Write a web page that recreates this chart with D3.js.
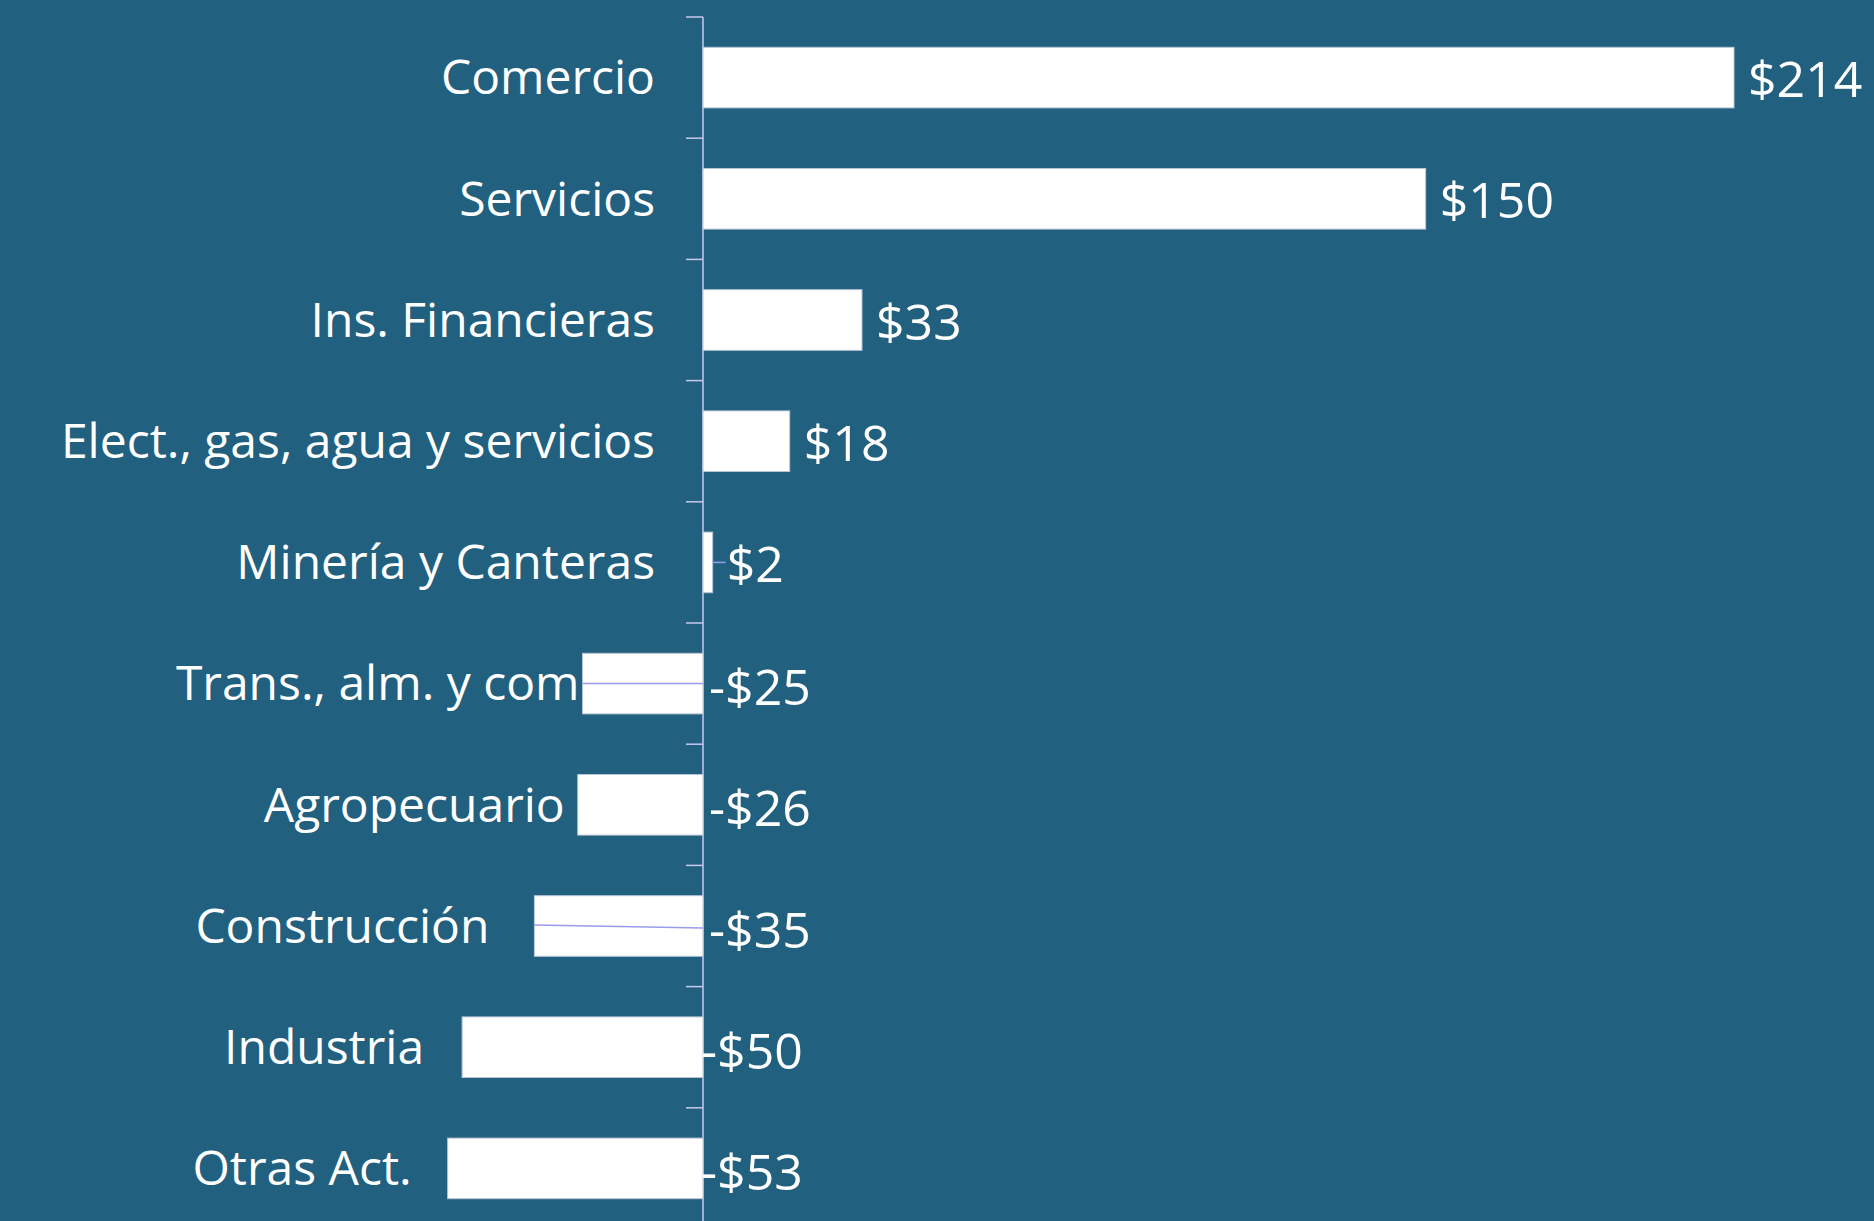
<!DOCTYPE html>
<html><head><meta charset="utf-8">
<script src="https://cdn.jsdelivr.net/npm/d3@7"></script>
<style>
html,body{margin:0;padding:0;background:#22607F;overflow:hidden}
svg{display:block}
text{font-family:"Open Sans",Lato,sans-serif;fill:#ffffff}
</style></head><body>
<svg id="c" width="1874" height="1221"></svg>
<script>
const categories = ["Comercio","Servicios","Ins. Financieras","Elect., gas, agua y servicios","Minería y Canteras","Trans., alm. y com","Agropecuario","Construcción","Industria","Otras Act."];
const values = [214,150,33,18,2,-25,-26,-35,-50,-53];
const valueLabels = ["$214","$150","$33","$18","$2","-$25","-$26","-$35","-$50","-$53"];

// layout constants (not data)
const labelGap = [48,48,48,48,48,3,13,45,38,36];

const svg = d3.select("#c");
const x = d3.scaleLinear().domain([0,214]).range([703,1734]);
const y = d3.scaleBand().domain(categories).range([17,17+121.2*10]).paddingInner(0.5).paddingOuter(0.25);

const axisColor = "#c9c9f2";

svg.append("line").attr("x1",703).attr("x2",703).attr("y1",17).attr("y2",1221)
  .attr("stroke",axisColor).attr("stroke-width",1.5);
const step = y.step();
categories.forEach((c,i)=>{
  const ty = y.range()[0] + i*step;
  svg.append("line").attr("x1",686).attr("x2",703).attr("y1",ty).attr("y2",ty)
    .attr("stroke",axisColor).attr("stroke-width",1.5);
});

svg.selectAll("rect.bar").data(values).join("rect").attr("class","bar")
  .attr("x",d=>Math.min(x(0),x(d)))
  .attr("width",d=>Math.abs(x(d)-x(0)))
  .attr("y",(d,i)=>y(categories[i]))
  .attr("height",y.bandwidth())
  .attr("fill","#ffffff").attr("stroke","#b8c6d6").attr("stroke-width",1);

const leader = "#9b9bec";
{
  const i = 5, cy = y(categories[i])+y.bandwidth()/2;
  svg.append("line").attr("x1",x(values[i])).attr("x2",x(0)).attr("y1",cy).attr("y2",cy)
    .attr("stroke",leader).attr("stroke-width",1.5);
}
{
  const i = 7, cy = y(categories[i])+y.bandwidth()/2;
  svg.append("line").attr("x1",x(values[i])).attr("x2",x(0)).attr("y1",cy-1).attr("y2",cy+2)
    .attr("stroke",leader).attr("stroke-width",1.5);
}
{
  const i = 4, cy = y(categories[i])+y.bandwidth()/2;
  svg.append("line").attr("x1",x(values[i])).attr("x2",x(values[i])+13).attr("y1",cy).attr("y2",cy)
    .attr("stroke",leader).attr("stroke-width",1.5);
}

svg.selectAll("text.cat").data(categories).join("text").attr("class","cat")
  .attr("x",(d,i)=>Math.min(x(0),x(values[i]))-labelGap[i])
  .attr("y",(d,i)=>y(d)+y.bandwidth()/2)
  .attr("dy","0.35em")
  .attr("text-anchor","end")
  .attr("font-size",48)
  .text(d=>d);

svg.selectAll("text.val").data(values).join("text").attr("class","val")
  .attr("x",(d,i)=> d>=0 ? x(d)+14 : x(0)+ (i>=8 ? -2 : 6))
  .attr("y",(d,i)=>y(categories[i])+y.bandwidth()/2+ (d<0?4:2))
  .attr("dy","0.35em")
  .attr("text-anchor","start")
  .attr("font-size",50)
  .text((d,i)=>valueLabels[i]);
</script>
</body></html>
